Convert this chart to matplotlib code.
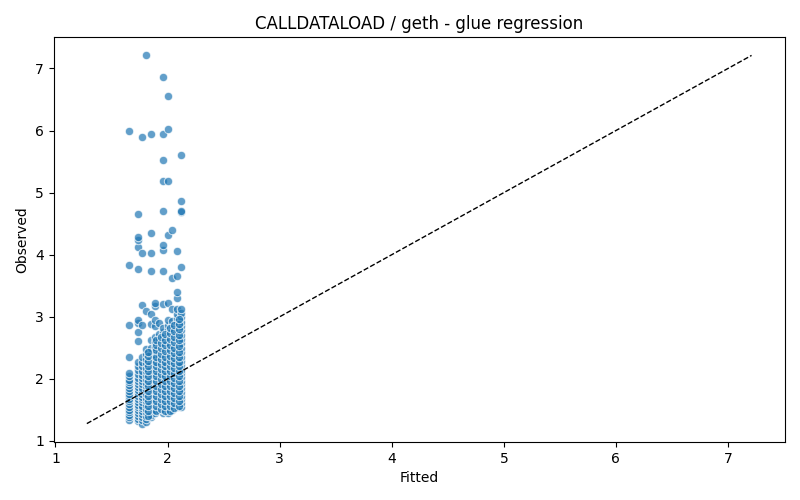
import numpy as np
import matplotlib
matplotlib.use("Agg")
from matplotlib import pyplot as plt

fitted_levels = [1.655, 1.74, 1.775, 1.81, 1.85, 1.885, 1.92, 1.96, 2.00, 2.04, 2.08, 2.12,
                 1.83, 1.90, 1.94, 1.98, 2.02, 2.06, 2.10]
observed_cols = [
    [1.34, 1.38, 1.42, 1.46, 1.50, 1.55, 1.60, 1.64, 1.68, 1.72, 1.76, 1.80, 1.85, 1.90, 1.95, 1.99,
     2.04, 2.10, 2.36, 2.86, 3.84, 5.99],
    [1.32, 1.36, 1.40, 1.45, 1.50, 1.54, 1.58, 1.63, 1.68, 1.72, 1.77, 1.82, 1.87, 1.92, 1.97, 2.02,
     2.08, 2.14, 2.20, 2.27, 2.61, 2.75, 2.90, 2.95, 3.77, 4.13, 4.23, 4.29, 4.66],
    [1.28, 1.34, 1.38, 1.43, 1.48, 1.53, 1.57, 1.62, 1.67, 1.71, 1.76, 1.81, 1.86, 1.91, 1.96, 2.01,
     2.07, 2.13, 2.20, 2.28, 2.36, 2.86, 3.19, 4.03, 5.89],
    [1.30, 1.35, 1.40, 1.46, 1.52, 1.58, 1.64, 1.70, 1.76, 1.82, 1.88, 1.94, 2.00, 2.06, 2.12, 2.18,
     2.25, 2.32, 2.40, 2.48, 3.10, 7.21],
    [1.38, 1.42, 1.48, 1.54, 1.60, 1.66, 1.72, 1.78, 1.84, 1.90, 1.96, 2.02, 2.08, 2.14, 2.20, 2.27,
     2.35, 2.42, 2.50, 2.62, 2.88, 3.05, 3.74, 4.03, 4.35, 5.95],
    [1.45, 1.50, 1.56, 1.62, 1.68, 1.74, 1.80, 1.86, 1.92, 1.98, 2.04, 2.10, 2.17, 2.24, 2.31, 2.38,
     2.45, 2.52, 2.60, 2.68, 2.85, 2.95, 3.17, 3.22],
    [1.50, 1.55, 1.61, 1.67, 1.73, 1.79, 1.85, 1.91, 1.97, 2.03, 2.09, 2.16, 2.23, 2.30, 2.37, 2.44,
     2.51, 2.58, 2.65, 2.72, 2.90],
    [1.45, 1.50, 1.56, 1.62, 1.68, 1.74, 1.80, 1.86, 1.92, 1.98, 2.04, 2.10, 2.17, 2.24, 2.31, 2.38,
     2.45, 2.52, 2.60, 2.68, 2.76, 2.82, 3.21, 3.73, 4.08, 4.16, 4.71, 5.19, 5.52, 5.95, 6.87],
    [1.45, 1.51, 1.57, 1.63, 1.69, 1.75, 1.81, 1.87, 1.93, 1.99, 2.05, 2.11, 2.18, 2.25, 2.32, 2.39,
     2.46, 2.53, 2.60, 2.67, 2.74, 2.80, 2.86, 2.95, 3.22, 4.32, 5.18, 6.03, 6.56],
    [1.50, 1.56, 1.62, 1.68, 1.74, 1.80, 1.86, 1.92, 1.98, 2.04, 2.10, 2.17, 2.24, 2.31, 2.38, 2.45,
     2.52, 2.59, 2.66, 2.73, 2.80, 2.87, 2.93, 3.12, 3.63, 4.40],
    [1.54, 1.60, 1.66, 1.72, 1.78, 1.84, 1.90, 1.96, 2.02, 2.08, 2.14, 2.21, 2.28, 2.35, 2.42, 2.49,
     2.56, 2.63, 2.70, 2.77, 2.84, 2.91, 2.98, 3.05, 3.12, 3.30, 3.40, 3.66, 4.06],
    [1.55, 1.61, 1.67, 1.73, 1.79, 1.85, 1.91, 1.97, 2.03, 2.09, 2.15, 2.22, 2.29, 2.36, 2.43, 2.50,
     2.57, 2.64, 2.71, 2.78, 2.85, 2.92, 3.00, 3.06, 3.12, 3.81, 4.68, 4.70, 4.87, 5.61],
    # in-between columns that fill the dense block
    [1.41, 1.49, 1.57, 1.65, 1.73, 1.81, 1.89, 1.97, 2.05, 2.13, 2.21, 2.29, 2.37, 2.44],
    [1.48, 1.56, 1.64, 1.72, 1.80, 1.88, 1.96, 2.04, 2.12, 2.20, 2.28, 2.36, 2.46, 2.55, 2.63],
    [1.52, 1.60, 1.68, 1.76, 1.84, 1.92, 2.00, 2.08, 2.16, 2.24, 2.32, 2.40, 2.49, 2.58, 2.68],
    [1.48, 1.56, 1.64, 1.72, 1.80, 1.88, 1.96, 2.04, 2.12, 2.20, 2.28, 2.36, 2.45, 2.54, 2.63, 2.72],
    [1.49, 1.57, 1.65, 1.73, 1.81, 1.89, 1.97, 2.05, 2.13, 2.21, 2.29, 2.37, 2.46, 2.55, 2.64, 2.74,
     2.82],
    [1.53, 1.61, 1.69, 1.77, 1.85, 1.93, 2.01, 2.09, 2.17, 2.25, 2.33, 2.41, 2.50, 2.59, 2.68, 2.77,
     2.86],
    [1.56, 1.64, 1.72, 1.80, 1.88, 1.96, 2.04, 2.12, 2.20, 2.28, 2.36, 2.44, 2.53, 2.62, 2.71, 2.80,
     2.89, 2.96],
]

fitted = np.concatenate([[f] * len(col) for f, col in zip(fitted_levels, observed_cols)])
observed = np.concatenate(observed_cols)

fig, ax = plt.subplots(figsize=(8, 5), dpi=100)
ax.scatter(fitted, observed, s=36, color="#1f77b4", alpha=0.7,
           edgecolors="white", linewidths=0.75)

lo = min(fitted.min(), observed.min())
hi = max(fitted.max(), observed.max())
ax.plot([lo, hi], [lo, hi], "k--", linewidth=1)

ax.set_title("CALLDATALOAD / geth - glue regression")
ax.set_xlabel("Fitted")
ax.set_ylabel("Observed")

plt.subplots_adjust(left=0.067, right=0.981, top=0.926, bottom=0.116)
plt.savefig("out.png", dpi=100)
